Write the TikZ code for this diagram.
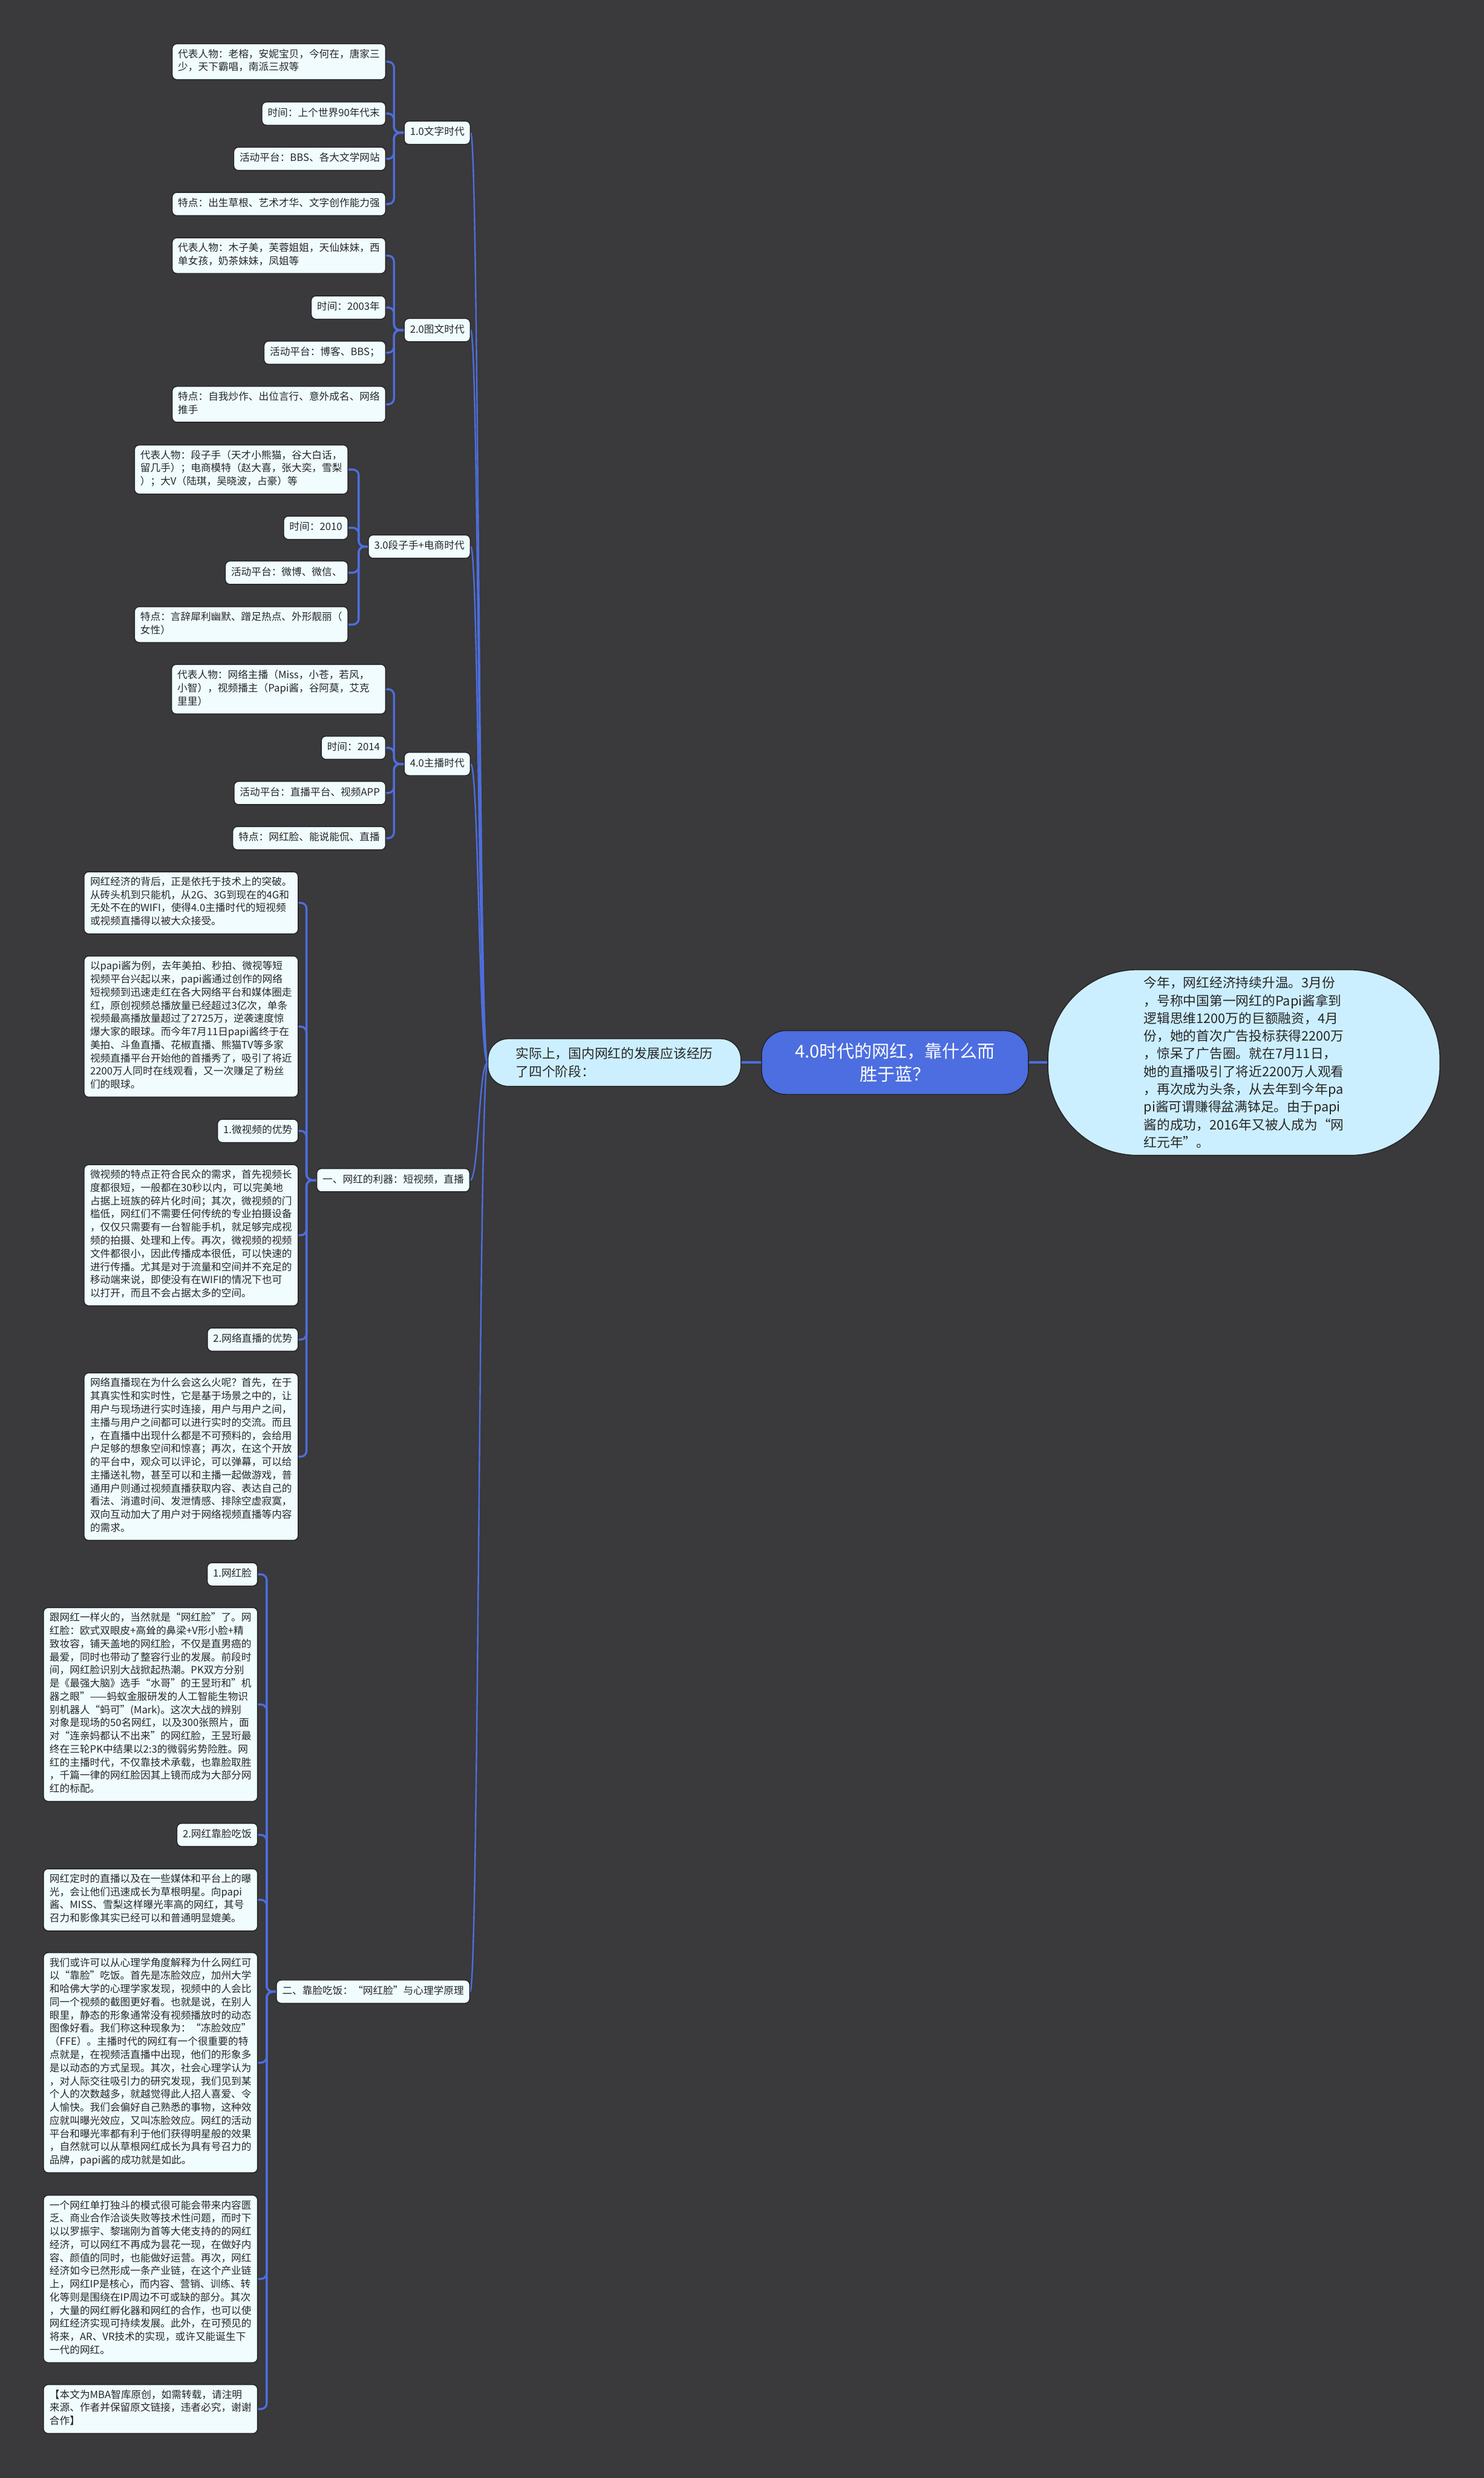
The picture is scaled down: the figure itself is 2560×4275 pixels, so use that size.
\documentclass[tikz,border=0pt]{standalone}
\usepackage{fontspec}
\setmainfont{Noto Sans CJK SC}
\usetikzlibrary{backgrounds}
\definecolor{bgcol}{RGB}{58,57,59}
\definecolor{linkblue}{RGB}{77,110,222}
\definecolor{leaffill}{RGB}{240,252,254}
\definecolor{edgecol}{RGB}{35,35,35}
\definecolor{rootblue}{RGB}{76,110,224}
\definecolor{introfill}{RGB}{204,239,255}
\begin{document}
\begin{tikzpicture}[x=0.01cm,y=-0.01cm,
	leaf/.style={draw=edgecol, line width=0.015cm, fill=leaffill, rounded corners=0.08cm, align=left, anchor=east,
		inner xsep=0.1cm, inner ysep=0.0865cm, text=black!85, font=\fontsize{4.95pt}{6.46pt}\selectfont,
		execute at begin node=\strut, execute at end node=\strut},
	para/.style={leaf, minimum width=3.69cm},
	stagebox/.style={draw=edgecol, line width=0.015cm, fill=introfill, rounded corners=0.35cm, align=left,
		minimum width=4.36cm, minimum height=0.82cm, text=black!85, font=\fontsize{6.45pt}{8.7pt}\selectfont},
	rootbox/.style={draw=edgecol, line width=0.015cm, fill=rootblue, rounded corners=0.42cm, align=center,
		minimum width=4.6cm, minimum height=1.1cm, text=white, font=\fontsize{8.6pt}{11.4pt}\selectfont},
	introbox/.style={draw=edgecol, line width=0.015cm, fill=introfill, rounded corners=1.55cm, align=left,
		minimum width=6.76cm, minimum height=3.2cm, text=black!85, font=\fontsize{6.45pt}{8.7pt}\selectfont},
	trunk/.style={draw=linkblue, line width=0.025cm},
	sublink/.style={draw=linkblue, line width=0.035cm, rounded corners=0.1cm},
	mainlink/.style={draw=linkblue, line width=0.04cm}]

	\node[rootbox] (root) at (1544,1833) {4.0时代的网红，靠什么而\\胜于蓝？};
	\node[introbox] (intro) at (2146,1833) {今年，网红经济持续升温。3月份\\，号称中国第一网红的Papi酱拿到\\逻辑思维1200万的巨额融资，4月\\份，她的首次广告投标获得2200万\\，惊呆了广告圈。就在7月11日，\\她的直播吸引了将近2200万人观看\\，再次成为头条，从去年到今年pa\\pi酱可谓赚得盆满钵足。由于papi\\酱的成功，2016年又被人成为“网\\红元年”。};
	\node[stagebox] (stage) at (1060,1833) {实际上，国内网红的发展应该经历\\了四个阶段：};

	\node[leaf] (era1) at (812,229) {1.0文字时代};
	\node[leaf] (era1a) at (666,106.5) {代表人物：老榕，安妮宝贝，今何在，唐家三\\少，天下霸唱，南派三叔等};
	\node[leaf] (era1b) at (666,196) {时间：上个世界90年代末};
	\node[leaf] (era1c) at (666,274) {活动平台：BBS、各大文学网站};
	\node[leaf] (era1d) at (666,352) {特点：出生草根、艺术才华、文字创作能力强};

	\node[leaf] (era2) at (812,569.5) {2.0图文时代};
	\node[leaf] (era2a) at (666,441) {代表人物：木子美，芙蓉姐姐，天仙妹妹，西\\单女孩，奶茶妹妹，凤姐等};
	\node[leaf] (era2b) at (666,530.5) {时间：2003年};
	\node[leaf] (era2c) at (666,608.5) {活动平台：博客、BBS；};
	\node[leaf] (era2d) at (666,697.5) {特点：自我炒作、出位言行、意外成名、网络\\推手};

	\node[leaf] (era3) at (812,943) {3.0段子手+电商时代};
	\node[leaf] (era3a) at (601,810) {代表人物：段子手（天才小熊猫，谷大白话，\\留几手）；电商模特（赵大喜，张大奕，雪梨\\）；大V（陆琪，吴晓波，占豪）等};
	\node[leaf] (era3b) at (601,910.5) {时间：2010};
	\node[leaf] (era3c) at (601,988) {活动平台：微博、微信、};
	\node[leaf] (era3d) at (601,1077.5) {特点：言辞犀利幽默、蹭足热点、外形靓丽（\\女性）};

	\node[leaf] (era4) at (812,1318) {4.0主播时代};
	\node[leaf, text width=3.49cm] (era4a) at (666,1189) {代表人物：网络主播（Miss，小苍，若风，\\小智），视频播主（Papi酱，谷阿莫，艾克\\里里）};
	\node[leaf] (era4b) at (666,1290) {时间：2014};
	\node[leaf] (era4c) at (666,1368) {活动平台：直播平台、视频APP};
	\node[leaf] (era4d) at (666,1446) {特点：网红脸、能说能侃、直播};

	\node[leaf] (sec1) at (811,2036) {一、网红的利器：短视频，直播};
	\node[para] (sec1a) at (515,1557.5) {网红经济的背后，正是依托于技术上的突破。\\从砖头机到只能机，从2G、3G到现在的4G和\\无处不在的WIFI，使得4.0主播时代的短视频\\或视频直播得以被大众接受。};
	\node[para] (sec1b) at (515,1771) {以papi酱为例，去年美拍、秒拍、微视等短\\视频平台兴起以来，papi酱通过创作的网络\\短视频到迅速走红在各大网络平台和媒体圈走\\红，原创视频总播放量已经超过3亿次，单条\\视频最高播放量超过了2725万，逆袭速度惊\\爆大家的眼球。而今年7月11日papi酱终于在\\美拍、斗鱼直播、花椒直播、熊猫TV等多家\\视频直播平台开始他的首播秀了，吸引了将近\\2200万人同时在线观看，又一次赚足了粉丝\\们的眼球。};
	\node[leaf] (sec1c) at (515,1951) {1.微视频的优势};
	\node[para] (sec1d) at (515,2131) {微视频的特点正符合民众的需求，首先视频长\\度都很短，一般都在30秒以内，可以完美地\\占据上班族的碎片化时间；其次，微视频的门\\槛低，网红们不需要任何传统的专业拍摄设备\\，仅仅只需要有一台智能手机，就足够完成视\\频的拍摄、处理和上传。再次，微视频的视频\\文件都很小，因此传播成本很低，可以快速的\\进行传播。尤其是对于流量和空间并不充足的\\移动端来说，即使没有在WIFI的情况下也可\\以打开，而且不会占据太多的空间。};
	\node[leaf] (sec1e) at (515,2311) {2.网络直播的优势};
	\node[para] (sec1f) at (515,2513) {网络直播现在为什么会这么火呢？首先，在于\\其真实性和实时性，它是基于场景之中的，让\\用户与现场进行实时连接，用户与用户之间，\\主播与用户之间都可以进行实时的交流。而且\\，在直播中出现什么都是不可预料的，会给用\\户足够的想象空间和惊喜；再次，在这个开放\\的平台中，观众可以评论，可以弹幕，可以给\\主播送礼物，甚至可以和主播一起做游戏，普\\通用户则通过视频直播获取内容、表达自己的\\看法、消遣时间、发泄情感、排除空虚寂寞，\\双向互动加大了用户对于网络视频直播等内容\\的需求。};

	\node[leaf] (sec2) at (811,3436) {二、靠脸吃饭：“网红脸”与心理学原理};
	\node[leaf] (sec2a) at (445,2716) {1.网红脸};
	\node[para] (sec2b) at (445,2940.5) {跟网红一样火的，当然就是“网红脸”了。网\\红脸：欧式双眼皮+高耸的鼻梁+V形小脸+精\\致妆容，铺天盖地的网红脸，不仅是直男癌的\\最爱，同时也带动了整容行业的发展。前段时\\间，网红脸识别大战掀起热潮。PK双方分别\\是《最强大脑》选手“水哥”的王昱珩和"机\\器之眼"——蚂蚁金服研发的人工智能生物识\\别机器人“蚂可”(Mark)。这次大战的辨别\\对象是现场的50名网红，以及300张照片，面\\对“连亲妈都认不出来”的网红脸，王昱珩最\\终在三轮PK中结果以2:3的微弱劣势险胜。网\\红的主播时代，不仅靠技术承载，也靠脸取胜\\，千篇一律的网红脸因其上镜而成为大部分网\\红的标配。};
	\node[leaf] (sec2c) at (445,3165.5) {2.网红靠脸吃饭};
	\node[para] (sec2d) at (445,3277.5) {网红定时的直播以及在一些媒体和平台上的曝\\光，会让他们迅速成长为草根明星。向papi\\酱、MISS、雪梨这样曝光率高的网红，其号\\召力和影像其实已经可以和普通明显媲美。};
	\node[para] (sec2e) at (445,3558.5) {我们或许可以从心理学角度解释为什么网红可\\以“靠脸”吃饭。首先是冻脸效应，加州大学\\和哈佛大学的心理学家发现，视频中的人会比\\同一个视频的截图更好看。也就是说，在别人\\眼里，静态的形象通常没有视频播放时的动态\\图像好看。我们称这种现象为：“冻脸效应”\\（FFE）。主播时代的网红有一个很重要的特\\点就是，在视频活直播中出现，他们的形象多\\是以动态的方式呈现。其次，社会心理学认为\\，对人际交往吸引力的研究发现，我们见到某\\个人的次数越多，就越觉得此人招人喜爱、令\\人愉快。我们会偏好自己熟悉的事物，这种效\\应就叫曝光效应，又叫冻脸效应。网红的活动\\平台和曝光率都有利于他们获得明星般的效果\\，自然就可以从草根网红成长为具有号召力的\\品牌，papi酱的成功就是如此。};
	\node[para] (sec2f) at (445,3931.5) {一个网红单打独斗的模式很可能会带来内容匮\\乏、商业合作洽谈失败等技术性问题，而时下\\以以罗振宇、黎瑞刚为首等大佬支持的的网红\\经济，可以网红不再成为昙花一现，在做好内\\容、颜值的同时，也能做好运营。再次，网红\\经济如今已然形成一条产业链，在这个产业链\\上，网红IP是核心，而内容、营销、训练、转\\化等则是围绕在IP周边不可或缺的部分。其次\\，大量的网红孵化器和网红的合作，也可以使\\网红经济实现可持续发展。此外，在可预见的\\将来，AR、VR技术的实现，或许又能诞生下\\一代的网红。};
	\node[para] (sec2g) at (445,4156) {【本文为MBA智库原创，如需转载，请注明\\来源、作者并保留原文链接，违者必究，谢谢\\合作】};

	\begin{scope}[on background layer]
	\fill[bgcol] (0,0) rectangle (2560,4275);

	\draw[mainlink] (root.west) -- (stage.east);
	\draw[mainlink] (root.east) -- (intro.west);

	\draw[trunk] (stage.west) .. controls (826,1833) and (826,229) .. (era1.east);
	\draw[trunk] (stage.west) .. controls (826,1833) and (826,569.5) .. (era2.east);
	\draw[trunk] (stage.west) .. controls (826,1833) and (826,943) .. (era3.east);
	\draw[trunk] (stage.west) .. controls (826,1833) and (826,1318) .. (era4.east);
	\draw[trunk] (stage.west) .. controls (826,1833) and (826,2036) .. (sec1.east);
	\draw[trunk] (stage.west) .. controls (826,1833) and (826,3436) .. (sec2.east);

	\draw[sublink] (era1.west) -- ++(-17,0) |- (era1a.east);
	\draw[sublink] (era1.west) -- ++(-17,0) |- (era1b.east);
	\draw[sublink] (era1.west) -- ++(-17,0) |- (era1c.east);
	\draw[sublink] (era1.west) -- ++(-17,0) |- (era1d.east);

	\draw[sublink] (era2.west) -- ++(-17,0) |- (era2a.east);
	\draw[sublink] (era2.west) -- ++(-17,0) |- (era2b.east);
	\draw[sublink] (era2.west) -- ++(-17,0) |- (era2c.east);
	\draw[sublink] (era2.west) -- ++(-17,0) |- (era2d.east);

	\draw[sublink] (era3.west) -- ++(-16,0) |- (era3a.east);
	\draw[sublink] (era3.west) -- ++(-16,0) |- (era3b.east);
	\draw[sublink] (era3.west) -- ++(-16,0) |- (era3c.east);
	\draw[sublink] (era3.west) -- ++(-16,0) |- (era3d.east);

	\draw[sublink] (era4.west) -- ++(-17,0) |- (era4a.east);
	\draw[sublink] (era4.west) -- ++(-17,0) |- (era4b.east);
	\draw[sublink] (era4.west) -- ++(-17,0) |- (era4c.east);
	\draw[sublink] (era4.west) -- ++(-17,0) |- (era4d.east);

	\draw[sublink] (sec1.west) -- ++(-17,0) |- (sec1a.east);
	\draw[sublink] (sec1.west) -- ++(-17,0) |- (sec1b.east);
	\draw[sublink] (sec1.west) -- ++(-17,0) |- (sec1c.east);
	\draw[sublink] (sec1.west) -- ++(-17,0) |- (sec1d.east);
	\draw[sublink] (sec1.west) -- ++(-17,0) |- (sec1e.east);
	\draw[sublink] (sec1.west) -- ++(-17,0) |- (sec1f.east);

	\draw[sublink] (sec2.west) -- ++(-16,0) |- (sec2a.east);
	\draw[sublink] (sec2.west) -- ++(-16,0) |- (sec2b.east);
	\draw[sublink] (sec2.west) -- ++(-16,0) |- (sec2c.east);
	\draw[sublink] (sec2.west) -- ++(-16,0) |- (sec2d.east);
	\draw[sublink] (sec2.west) -- ++(-16,0) |- (sec2e.east);
	\draw[sublink] (sec2.west) -- ++(-16,0) |- (sec2f.east);
	\draw[sublink] (sec2.west) -- ++(-16,0) |- (sec2g.east);
	\end{scope}

\end{tikzpicture}
\end{document}
